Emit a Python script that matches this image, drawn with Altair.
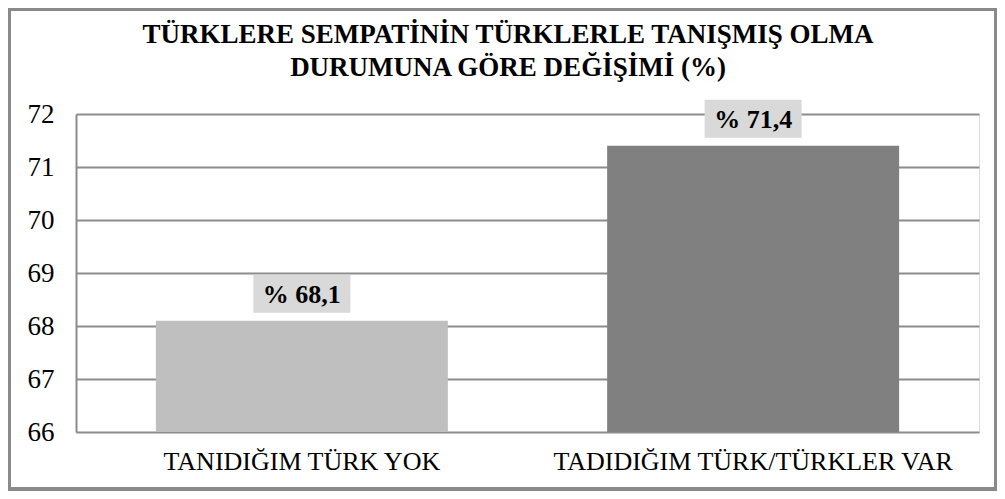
import altair as alt
import pandas as pd

categories = ["TANIDIĞIM TÜRK YOK", "TADIDIĞIM TÜRK/TÜRKLER VAR"]
values = [68.1, 71.4]
labels = ["% 68,1", "% 71,4"]
colors = ["#bfbfbf", "#808080"]
y_ticks = [66, 67, 68, 69, 70, 71, 72]
title_line1 = ["TÜRKLERE SEMPATİNİN TÜRKLERLE TANIŞMIŞ OLMA"]
title_line2 = ["DURUMUNA GÖRE DEĞİŞİMİ (%)"]

df = pd.DataFrame({"cat": categories, "val": values, "lab": labels, "col": colors})

FONT = "Times New Roman, Liberation Serif, serif"

xenc = alt.X("cat:N", sort=categories,
             scale=alt.Scale(paddingInner=0.353, paddingOuter=0.177),
             axis=alt.Axis(title=None, labelAngle=0, labelFont=FONT, labelFontSize=26,
                           labelColor="#000000", labelPadding=16, ticks=False, labelLimit=0,
                           domain=False, labelBaseline="top"))
yenc = alt.Y("val:Q", scale=alt.Scale(domain=[66, 72], zero=False, nice=False),
             axis=alt.Axis(title=None, values=y_ticks, labelFont=FONT, labelFontSize=27,
                           labelColor="#000000", labelPadding=22, ticks=False,
                           domain=True, domainColor="#8c8c8c", domainWidth=2,
                           grid=True, gridColor="#8c8c8c", gridWidth=2, format="d"))

bars = alt.Chart(df).mark_bar(clip=True).encode(
    x=xenc, y=yenc,
    color=alt.Color("col:N", scale=None),
)

box_shape = "M-1,-0.392L1,-0.392L1,0.392L-1,0.392Z"
boxes = alt.Chart(df).mark_point(shape=box_shape, filled=True, color="#d9d9d9",
                                 opacity=1, size=9409, strokeWidth=0, yOffset=-27).encode(
    x=alt.X("cat:N", sort=categories), y="val:Q")

texts = alt.Chart(df).mark_text(font=FONT, fontSize=26, fontWeight="bold", color="#000000",
                                baseline="middle", dy=-26).encode(
    x=alt.X("cat:N", sort=categories), y="val:Q", text="lab:N")

t1 = alt.Chart(pd.DataFrame({"t": title_line1})).mark_text(
    font=FONT, fontSize=27, fontWeight="bold", color="#000000", baseline="middle", align="center"
).encode(x=alt.value(432), y=alt.value(-79), text="t:N")
t2 = alt.Chart(pd.DataFrame({"t": title_line2})).mark_text(
    font=FONT, fontSize=27, fontWeight="bold", color="#000000", baseline="middle", align="center"
).encode(x=alt.value(432), y=alt.value(-46), text="t:N")

border = alt.Chart(df.head(1)).mark_rect(fill=None, stroke="#8a8a8a", strokeWidth=4).encode(
    x=alt.value(-67), x2=alt.value(920), y=alt.value(-105), y2=alt.value(375))

chart = alt.layer(bars, boxes, texts, t1, t2, border).properties(
    width=903, height=318,
    autosize=alt.AutoSizeParams(type="none"),
    padding={"left": 68, "top": 106, "right": 18, "bottom": 59},
).configure_view(stroke=None).configure(background="#ffffff")

chart.save("out.html", embed_options={"renderer": "svg", "actions": False})
